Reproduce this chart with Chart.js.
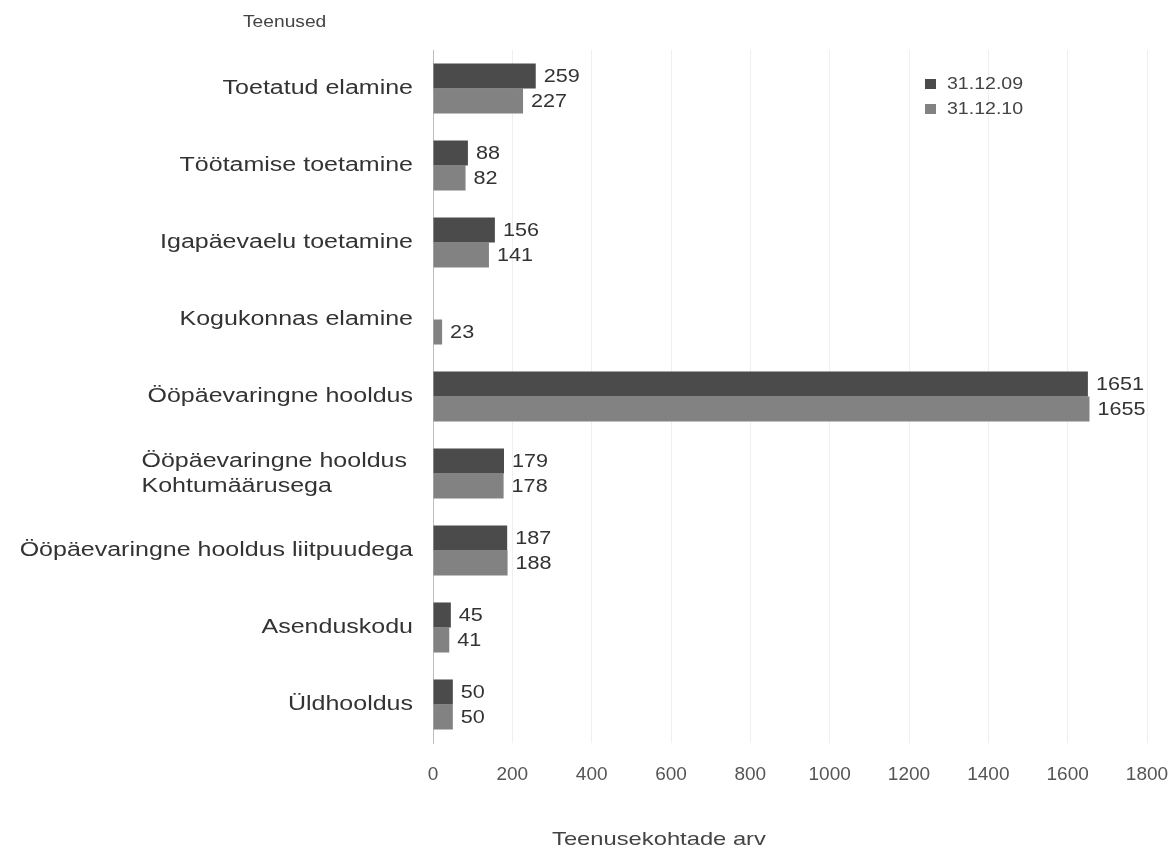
<!DOCTYPE html>
<html>
<head>
<meta charset="utf-8">
<script src="https://cdn.jsdelivr.net/npm/chart.js@4/dist/chart.umd.min.js"></script>
<style>
  body { margin: 0; background: #fff; font-family: "Liberation Sans", Arial, sans-serif; }
  #wrap { position: relative; width: 1173px; height: 850px; overflow: hidden; }
  .note { position: absolute; color: #444; transform-origin: left top; white-space: nowrap; }
  #legend { position: absolute; left: 925px; top: 74px; font-size: 17px; color: #444; }
  #legend div { height: 25px; line-height: 19px; white-space: nowrap; }
  #legend span { display: inline-block; width: 11px; height: 10px; margin-right: 11px; vertical-align: 0px; }
  #legend em { font-style: normal; display: inline-block; transform: scaleX(1.15); transform-origin: left center; }
</style>
</head>
<body>
<div id="wrap">
  <canvas id="chart" width="1173" height="850"></canvas>
  <div class="note" style="left:243px; top:13px; font-size:16px; transform:scaleX(1.2);">Teenused</div>
  <div class="note" style="left:552px; top:828px; font-size:19px; transform:scaleX(1.25);">Teenusekohtade arv</div>
  <div id="legend"></div>
</div>
<script>
const categories = [
  "Toetatud elamine",
  "Töötamise toetamine",
  "Igapäevaelu toetamine",
  "Kogukonnas elamine",
  "Ööpäevaringne hooldus",
  ["Ööpäevaringne hooldus", "Kohtumäärusega"],
  "Ööpäevaringne hooldus liitpuudega",
  "Asenduskodu",
  "Üldhooldus"
];
const seriesNames = ["31.12.09", "31.12.10"];
const values2009 = [259, 88, 156, null, 1651, 179, 187, 45, 50];
const values2010 = [227, 82, 141, 23, 1655, 178, 188, 41, 50];
const colors = ["#4b4b4b", "#828282"];

// the scan's lettering is a bit wider than Liberation Sans
const stretch = 1.25;

// category names, placed on the y scale's tick positions
const catLabels = {
  id: "catLabels",
  afterDraw(chart) {
    const ctx = chart.ctx;
    const y = chart.scales.y;
    ctx.save();
    ctx.font = "20px 'Liberation Sans', Arial, sans-serif";
    ctx.fillStyle = "#333";
    ctx.textBaseline = "middle";
    ctx.textAlign = "left";
    chart.data.labels.forEach((lab, i) => {
      const lines = Array.isArray(lab) ? lab : [lab];
      const py = y.getPixelForTick(i);
      const w = Math.max(...lines.map(l => ctx.measureText(l).width)) * stretch;
      const right = y.right - (lines.length > 1 ? 26 : 20);
      lines.forEach((l, k) => {
        ctx.save();
        ctx.translate(right - w, py + (k - (lines.length - 1) / 2) * 25);
        ctx.scale(stretch, 1);
        ctx.fillText(l, 0, 0);
        ctx.restore();
      });
    });
    ctx.restore();
  }
};

// values written at the end of each bar
const barValues = {
  id: "barValues",
  afterDatasetsDraw(chart) {
    const ctx = chart.ctx;
    ctx.save();
    ctx.font = "18px 'Liberation Sans', Arial, sans-serif";
    ctx.fillStyle = "#333";
    ctx.textBaseline = "middle";
    chart.data.datasets.forEach((ds, i) => {
      chart.getDatasetMeta(i).data.forEach((bar, j) => {
        if (ds.data[j] == null) return;
        ctx.save();
        ctx.translate(bar.x + 8, bar.y + 1);
        ctx.scale(1.2, 1);
        ctx.fillText(ds.data[j], 0, 0);
        ctx.restore();
      });
    });
    ctx.restore();
  }
};

new Chart(document.getElementById("chart"), {
  type: "bar",
  data: {
    labels: categories,
    datasets: [
      { label: seriesNames[0], data: values2009, backgroundColor: colors[0] },
      { label: seriesNames[1], data: values2010, backgroundColor: colors[1] }
    ]
  },
  options: {
    indexAxis: "y",
    responsive: false,
    animation: false,
    categoryPercentage: 0.65,
    barPercentage: 1,
    layout: { padding: { top: 50, right: 0, bottom: 0, left: 0 } },
    plugins: { legend: { display: false }, tooltip: { enabled: false } },
    scales: {
      x: {
        min: 0,
        max: 1800,
        ticks: {
          stepSize: 200,
          padding: 20,
          color: "#555",
          font: { size: 19, family: "Liberation Sans" },
          callback: v => String(v)
        },
        grid: { color: "#efefef", drawTicks: false },
        border: { display: false },
        afterFit(scale) {
          scale.height = 107;
          scale.paddingRight = 26;
        }
      },
      y: {
        ticks: { display: false },
        grid: { display: false },
        border: { display: true, color: "#bdbdbd" },
        afterFit(scale) { scale.width = 433; }
      }
    }
  },
  plugins: [barValues, catLabels]
});

document.getElementById("legend").innerHTML = seriesNames
  .map((n, i) => `<div><span style="background:${colors[i]}"></span><em>${n}</em></div>`)
  .join("");
</script>
</body>
</html>
